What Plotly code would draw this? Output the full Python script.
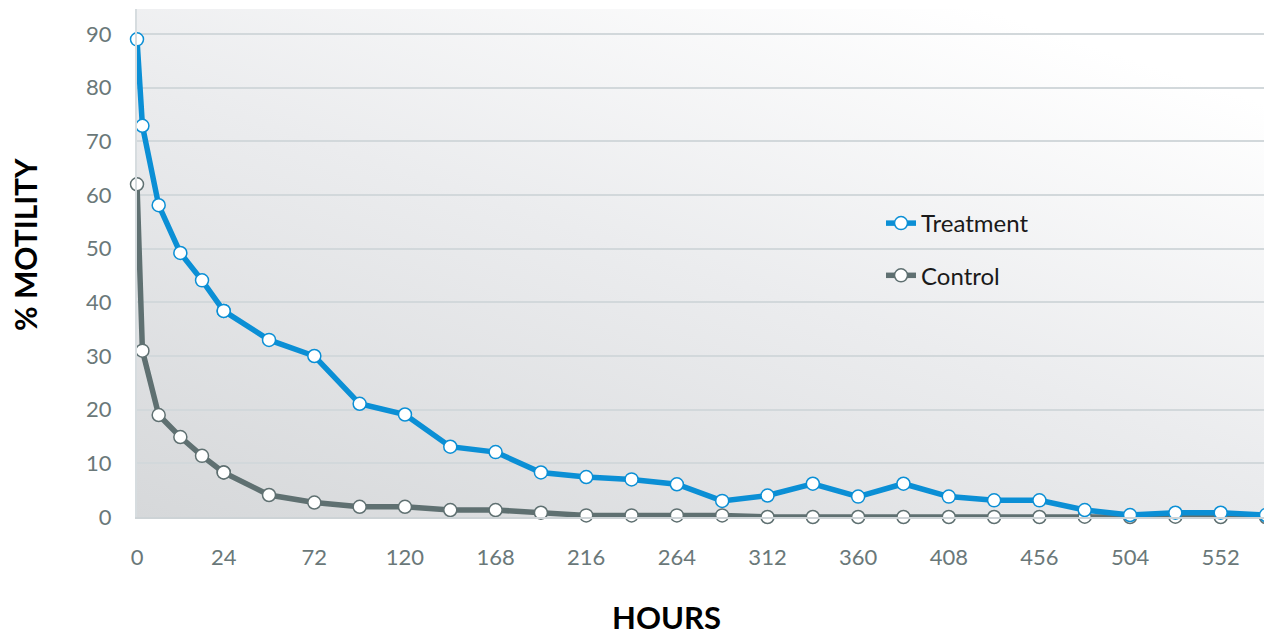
import base64
import plotly.graph_objects as go

# ---- data ----
hours = [0, 1.5, 6, 12, 18, 24, 48, 72, 96, 120, 144, 168, 192, 216, 240, 264,
         288, 312, 336, 360, 384, 408, 432, 456, 480, 504, 528, 552, 576]
treatment = [89.0, 72.9, 58.1, 49.2, 44.1, 38.4, 33.0, 30.0, 21.1, 19.1, 13.1, 12.1,
             8.3, 7.45, 7.0, 6.1, 3.0, 4.0, 6.2, 3.8, 6.2, 3.8, 3.1, 3.1, 1.3, 0.37,
             0.8, 0.8, 0.37]
control = [62.0, 31.0, 19.0, 14.9, 11.4, 8.3, 4.1, 2.7, 1.9, 1.9, 1.3, 1.3, 0.8, 0.3,
           0.3, 0.3, 0.3, 0.0, 0.0, 0.0, 0.0, 0.0, 0.0, 0.0, 0.05, 0.0, 0.05, 0.0, 0.0]
x_tick_first = [0]
x_tick_rest = [24, 72, 120, 168, 216, 264, 312, 360, 408, 456, 504, 552]
y_ticks = [0, 10, 20, 30, 40, 50, 60, 70, 80, 90]
split_hour = 24

BLUE = "#0b8fd5"
GRAY = "#5f7071"
TICK_COLOR = "#6a7879"
GRID = "#d2d8db"

# page body has an 8px margin, so the figure box starts at (8, 8)
OFF = 8
W, H = 1272 - OFF, 636 - OFF
PL, PT, PR, PB = 137, 9, 1266, 517          # plot area in page pixels
L, T = PL - OFF, PT - OFF
R = W - (PR - OFF)
B = H - (PB - OFF)
plot_w = PR - PL
plot_h = PB - PT
split_frac = 86.7 / plot_w

series = [("Control", control, GRAY), ("Treatment", treatment, BLUE)]

fig = go.Figure()
for name, vals, col in series:
    early = [(h, v) for h, v in zip(hours, vals) if h <= split_hour]
    late = [(h, v) for h, v in zip(hours, vals) if h >= split_hour]
    common = dict(
        mode="lines+markers",
        line=dict(color=col, width=5.5),
        marker=dict(size=13, color="white", line=dict(color=col, width=1.5)),
        cliponaxis=False,
        legendgroup=name,
        name=name,
        legendrank=1 if name == "Treatment" else 2,
    )
    fig.add_trace(go.Scatter(x=[p[0] for p in early], y=[p[1] for p in early],
                             xaxis="x", yaxis="y", showlegend=True, **common))
    fig.add_trace(go.Scatter(x=[p[0] for p in late], y=[p[1] for p in late],
                             xaxis="x2", yaxis="y", showlegend=False, **common))

tickfont = dict(family="Lato, sans-serif", size=22, color=TICK_COLOR)
xcommon = dict(showgrid=False, zeroline=False, showline=True, linecolor="#cdd3d6",
               linewidth=2, ticks="", ticklabelstandoff=20, tickfont=tickfont,
               fixedrange=True)

svg = (
    '<svg xmlns="http://www.w3.org/2000/svg" width="1129" height="508" '
    'viewBox="0 0 1129 508" preserveAspectRatio="none">'
    '<defs><linearGradient id="g" x1="0" y1="1" x2="0.75" y2="0">'
    '<stop offset="0" stop-color="#d6d8da"/>'
    '<stop offset="0.55" stop-color="#ebecee"/>'
    '<stop offset="1" stop-color="#ffffff"/>'
    '</linearGradient></defs>'
    '<rect width="1129" height="508" fill="url(#g)"/></svg>'
)
src = "data:image/svg+xml;base64," + base64.b64encode(svg.encode()).decode()

fig.update_layout(
    width=W, height=H,
    margin=dict(l=L, r=R, t=T, b=B, autoexpand=False),
    paper_bgcolor="white",
    plot_bgcolor="rgba(0,0,0,0)",
    font=dict(family="Lato, sans-serif"),
    xaxis=dict(domain=[0, split_frac], range=[0, split_hour], tickvals=x_tick_first,
               **xcommon),
    xaxis2=dict(domain=[split_frac, 1], range=[split_hour, 576], tickvals=x_tick_rest,
                anchor="y", **xcommon),
    yaxis=dict(range=[0, 94.66], tickvals=y_ticks, showgrid=True, gridcolor=GRID,
               gridwidth=1.5, zeroline=False, showline=True, linecolor="#d6dcdf",
               linewidth=2, ticks="", ticklabelstandoff=19, tickfont=tickfont,
               fixedrange=True),
    images=[dict(source=src, xref="paper", yref="paper", x=0, y=1, sizex=1, sizey=1,
                 sizing="stretch", xanchor="left", yanchor="top", layer="below")],
    legend=dict(x=0.659, y=0.622, xanchor="left", yanchor="top",
                bgcolor="rgba(0,0,0,0)", traceorder="grouped", tracegroupgap=18,
                font=dict(family="Lato, sans-serif", size=24, color="#1a1a1a")),
    annotations=[
        dict(text="% MOTILITY", xref="paper", yref="paper",
             x=(25 - PL) / plot_w, y=(PB - 245) / plot_h, textangle=-90,
             showarrow=False, xanchor="center", yanchor="middle",
             font=dict(family="Lato, sans-serif", size=30, color="black", weight="bold")),
        dict(text="HOURS", xref="paper", yref="paper",
             x=(666 - PL) / plot_w, y=(PB - 617) / plot_h,
             showarrow=False, xanchor="center", yanchor="middle",
             font=dict(family="Lato, sans-serif", size=31, color="black", weight="bold")),
    ],
    showlegend=True,
)

fig.write_html("out.html")
